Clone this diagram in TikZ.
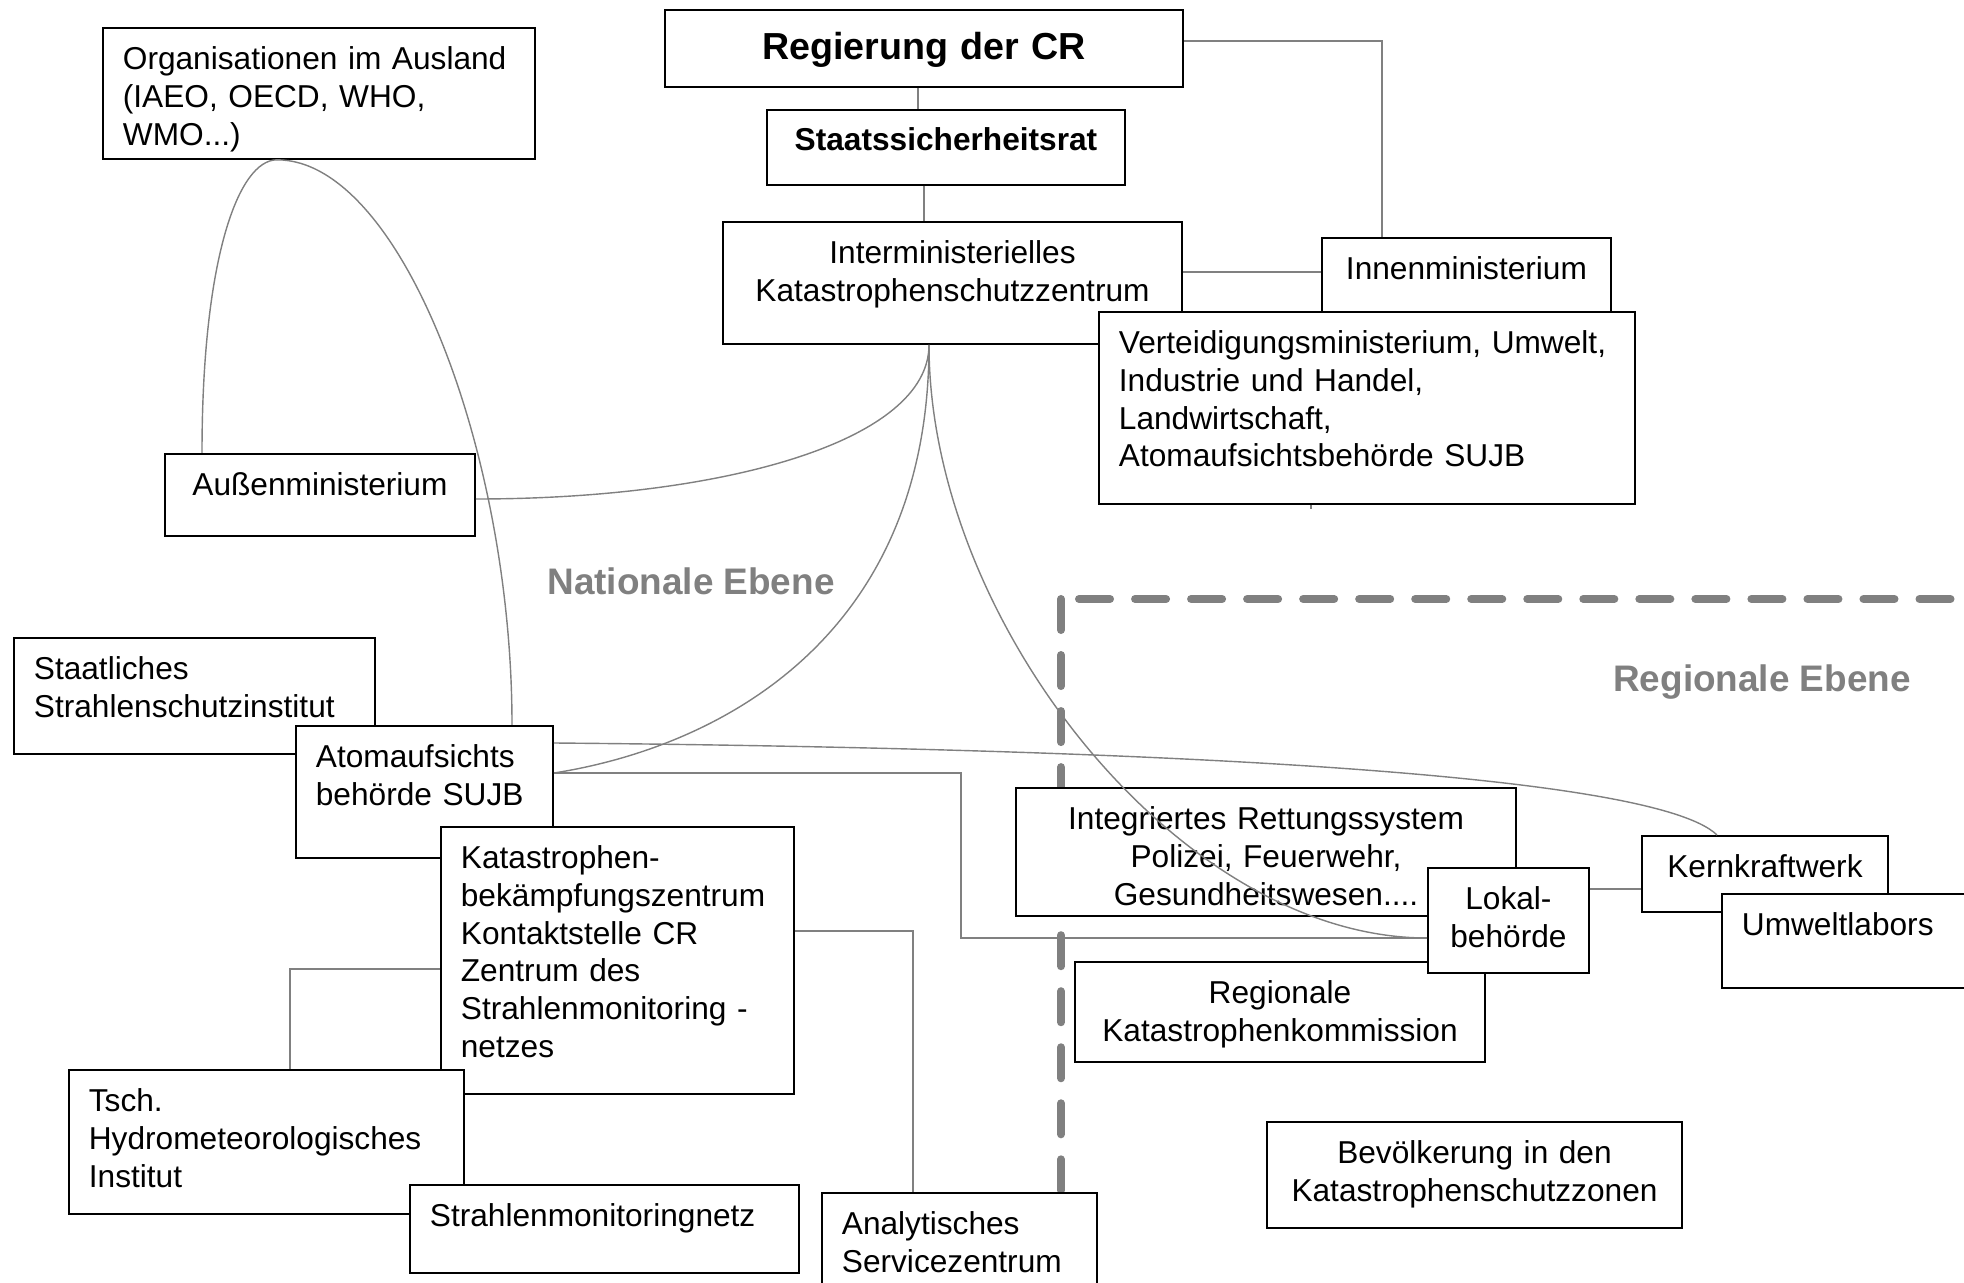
\documentclass[tikz,border=0pt]{standalone}
\usepackage{fontspec}
\setmainfont{Liberation Sans}
\begin{document}
\begin{tikzpicture}[x=0.01cm, y=-0.01cm,
    box/.style={draw, line width=0.5pt, fill=white, anchor=north west, inner xsep=0.2cm, inner ysep=0pt,
        text height=0.42cm, font=\fontsize{9}{10.7}\selectfont},
    lbox/.style={box, align=left},
    cbox/.style={box, align=center},
    link/.style={draw=gray, line width=0.4pt},
    zone/.style={draw=gray, line width=0.08cm, line cap=round, dash pattern=on 0.31cm off 0.25cm},
    level/.style={text=gray, font=\fontsize{10.5}{12}\selectfont\bfseries}]
    \useasboundingbox (0,0) rectangle (1964,1283);
    \draw[zone] (1061,599) -- (1061,1192);
    \draw[zone] (1079,599) -- (1990,599);

    \node (org) [lbox, text width=3.92cm, text depth=0.89cm] at (102,27) {Organisationen im Ausland\\(IAEO, OECD, WHO,\\WMO...)};
    \node (aussen) [cbox, text width=2.70cm, text depth=0.40cm] at (164,453) {Außenministerium};
    \node (reg) [cbox, text width=4.78cm, text height=0.50cm, text depth=0.27cm, font=\fontsize{10.7}{12.8}\selectfont\bfseries] at (664,9) {Regierung der CR};
    \node (staat) [cbox, text width=3.18cm, text height=0.41cm, text depth=0.34cm] at (766,109) {\bfseries Staatssicherheitsrat};
    \node (inter) [cbox, text width=4.19cm, text depth=0.80cm] at (722,221) {Interministerielles\\Katastrophenschutzzentrum};
    \node (innen) [cbox, text width=2.49cm, text depth=0.38cm] at (1321,237) {Innenministerium};
    \node (vert) [lbox, text width=4.96cm, text depth=1.50cm] at (1098,311) {Verteidigungsministerium, Umwelt,\\Industrie und Handel,\\Landwirtschaft,\\Atomaufsichtsbehörde SUJB};
    \node (staatl) [lbox, text width=3.21cm, text depth=0.74cm] at (13,637) {Staatliches\\Strahlenschutzinstitut};
    \node (atom) [lbox, text width=2.17cm, text depth=0.90cm] at (295,725) {Atomaufsichts\\behörde SUJB};
    \node (katas) [lbox, text width=3.13cm, text depth=2.25cm] at (440,826) {Katastrophen-\\bekämpfungszentrum\\Kontaktstelle CR\\Zentrum des\\Strahlenmonitoring -\\netzes};
    \node (tsch) [lbox, text width=3.55cm, text depth=1.02cm] at (68,1069) {Tsch.\\Hydrometeorologisches\\Institut};
    \node (strahl) [lbox, text width=3.49cm, text depth=0.46cm] at (409,1184) {Strahlenmonitoringnetz};
    \node (analyt) [lbox, text width=2.35cm, text depth=0.68cm] at (821,1192) {Analytisches\\Servicezentrum};
    \node (integr) [cbox, text width=4.60cm, text depth=0.86cm] at (1015,787) {Integriertes Rettungssystem\\Polizei, Feuerwehr,\\Gesundheitswesen....};
    \node (regkom) [cbox, text width=3.70cm, text depth=0.58cm] at (1074,961) {Regionale\\Katastrophenkommission};
    \node (lokal) [cbox, inner xsep=0.1cm, text width=1.41cm, text depth=0.63cm] at (1427,867) {Lokal-\\behörde};
    \node (kern) [cbox, text width=2.06cm, text depth=0.34cm] at (1641,835) {Kernkraftwerk};
    \node (umwelt) [lbox, text width=2.20cm, text depth=0.52cm] at (1721,893) {Umweltlabors};
    \node (bevoelk) [cbox, text width=3.75cm, text depth=0.64cm] at (1266,1121) {Bevölkerung in den\\Katastrophenschutzzonen};

    \node (natlevel) [level] at (691,581) {Nationale Ebene};
    \node (reglevel) [level] at (1762,682) {Regionale Ebene};

    \coordinate (vstub) at (1311,509);
    \coordinate (sujbbend) at (961,938);
    \draw[link] (reg.south -| 918,0) -- (staat.north -| 918,0);
    \draw[link] (staat.south -| 924,0) -- (inter.north -| 924,0);
    \draw[link] (reg.east |- 0,41) -| (innen.north -| 1382,0);
    \draw[link] (inter.east |- 0,272) -- (innen.west |- 0,272);
    \draw[link] (vert.south -| vstub) -- (vstub);
    \draw[link] (inter.south -| 929,0) .. controls +(0,97) and +(246,0) .. (aussen.east |- 0,499);
    \draw[link] (inter.south -| 929,0) .. controls +(0,297) and +(160,-25) .. (atom.east |- 0,773);
    \draw[link] (inter.south -| 929,0) .. controls +(0,277) and +(-247,0) .. (lokal.west |- 0,938);
    \draw[link] (aussen.north -| 202,0) .. controls +(0,-193) and +(-39,0) .. (org.south -| 277,0);
    \draw[link] (org.south -| 277,0) .. controls +(123,0) and +(0,-275) .. (atom.north -| 512,0);
    \draw[link] (atom.east |- 0,743) .. controls +(548,5) and +(-67,-65) .. (kern.north -| 1717,0);
    \draw[link] (atom.east |- 0,773) -| (sujbbend) -- (lokal.west |- sujbbend);
    \draw[link] (katas.west |- 0,969) -| (tsch.north -| 290,0);
    \draw[link] (katas.east |- 0,931) -| (analyt.north -| 913,0);
    \draw[link] (lokal.east |- 0,889) -- (kern.west |- 0,889);
\end{tikzpicture}
\end{document}
